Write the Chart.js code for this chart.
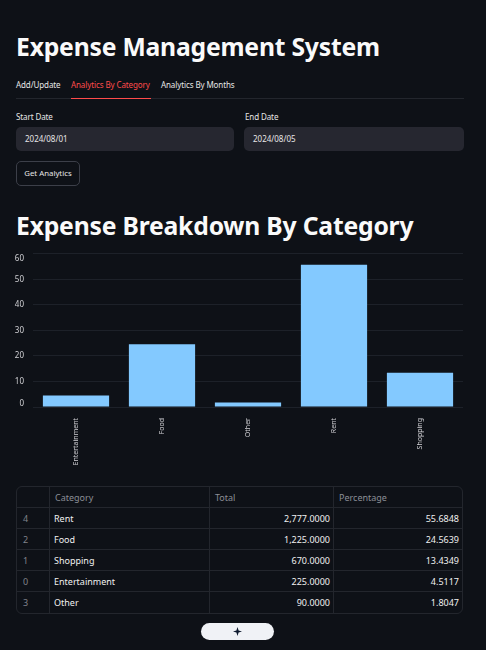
<!DOCTYPE html>
<html>
<head>
<meta charset="utf-8">
<title>Expense Management System</title>
<script src="https://cdn.jsdelivr.net/npm/chart.js@4"></script>
<style>
html, body { margin: 0; height: 100%; background: #0e1117; overflow: hidden; }
body { position: relative; width: 486px; height: 650px; font-family: "Noto Sans", sans-serif; color: #fafafa; }
.abs { position: absolute; white-space: nowrap; }
h1 { margin: 0; font-weight: 700; font-size: 24.7px; line-height: 34px; letter-spacing: -0.2px; }
.tab { top: 78px; font-size: 8px; line-height: 14px; letter-spacing: -0.1px; color: #e6e6e6; }
.tab.on { color: #ff4b4b; }
.lbl { top: 110px; font-size: 8px; line-height: 13px; letter-spacing: -0.1px; color: #e6e6e6; }
.input { top: 127px; height: 24px; background: #262730; border-radius: 5px; font-size: 8px; line-height: 24px; color: #e6e6e6; box-sizing: border-box; padding-left: 9px; }
.btn { left: 16px; top: 161px; width: 64px; height: 25px; box-sizing: border-box; border: 1px solid #3c3f49; border-radius: 5px; font-size: 7.8px; line-height: 23px; text-align: center; color: #e6e6e6; }
#chart { position: absolute; left: 0; top: 240px; }
#tbl { position: absolute; left: 16px; top: 486px; width: 447px; height: 126px; border: 1px solid #23262d; border-radius: 6px; border-collapse: separate; border-spacing: 0; table-layout: fixed; font-size: 9px; }
#tbl th, #tbl td { padding: 0 3px; height: 21px; box-sizing: border-box; border-right: 1px solid #23262d; border-bottom: 1px solid #23262d; font-weight: 400; white-space: nowrap; overflow: hidden; }
#tbl th { text-align: left; color: #8b8e96; padding-left: 5px; }
#tbl td { text-align: right; color: #f0f0f0; }
#tbl td.idx { text-align: left; color: #80838b; padding-left: 6px; }
#tbl td.cat { text-align: left; padding-left: 4px; }
#tbl tr > :last-child { border-right: 0; }
#tbl tr:last-child td { border-bottom: 0; }
.pill { left: 201px; top: 623px; width: 73px; height: 17px; border-radius: 9px; background: #f0f2f6; }
.pill svg { position: absolute; left: 32px; top: 4px; }
</style>
</head>
<body>
<h1 class="abs" style="left:16px;top:30px">Expense Management System</h1>
<div class="abs tab" style="left:16px">Add/Update</div>
<div class="abs tab on" style="left:71px">Analytics By Category</div>
<div class="abs tab" style="left:161px">Analytics By Months</div>
<div class="abs" style="left:16px;top:98px;width:448px;height:1px;background:#23262d"></div>
<div class="abs" style="left:71px;top:98px;width:80px;height:1px;background:#ff4b4b"></div>
<div class="abs lbl" style="left:16px">Start Date</div>
<div class="abs lbl" style="left:245px">End Date</div>
<div class="abs input" style="left:16px;width:218px">2024/08/01</div>
<div class="abs input" style="left:244px;width:220px">2024/08/05</div>
<div class="abs btn">Get Analytics</div>
<h1 class="abs" style="left:16px;top:209px">Expense Breakdown By Category</h1>
<canvas id="chart" width="486" height="233"></canvas>
<table id="tbl">
  <colgroup><col style="width:33px"><col style="width:160px"><col style="width:124px"><col></colgroup>
  <thead><tr id="tblHead"></tr></thead>
  <tbody id="tblBody"></tbody>
</table>
<div class="abs pill"><svg width="9" height="9" viewBox="0 0 10 10"><path d="M5 0 L6.2 3.8 L10 5 L6.2 6.2 L5 10 L3.8 6.2 L0 5 L3.8 3.8 Z" fill="#0e1a2f"/></svg></div>

<script>
// bar chart data
const categories = ['Entertainment', 'Food', 'Other', 'Rent', 'Shopping'];
const percentages = [4.5117, 24.5639, 1.8047, 55.6848, 13.4349];
const yTicks = [0, 10, 20, 30, 40, 50, 60];

// table data, sorted like the picture
const tableColumns = ['', 'Category', 'Total', 'Percentage'];
const rowIndex = [4, 2, 1, 0, 3];
const rowCategory = ['Rent', 'Food', 'Shopping', 'Entertainment', 'Other'];
const rowTotal = ['2,777.0000', '1,225.0000', '670.0000', '225.0000', '90.0000'];
const rowPercent = ['55.6848', '24.5639', '13.4349', '4.5117', '1.8047'];

document.getElementById('tblHead').innerHTML = tableColumns.map(c => `<th>${c}</th>`).join('');
document.getElementById('tblBody').innerHTML = rowIndex.map((idx, i) => `<tr>
  <td class="idx">${idx}</td><td class="cat">${rowCategory[i]}</td><td>${rowTotal[i]}</td><td>${rowPercent[i]}</td>
</tr>`).join('');

// the first and last y labels sit a bit inside the plot, plotly style
const nudgeEndLabels = {
    id: 'nudgeEndLabels',
    afterLayout(chart) {
        const items = chart.scales.y.getLabelItems();
        items[0].options.translation[1] -= 3;
        items[items.length - 1].options.translation[1] += 5;
    }
};

new Chart(document.getElementById('chart').getContext('2d'), {
    type: 'bar',
    data: {
        labels: categories,
        datasets: [{ data: percentages, backgroundColor: '#83c9ff', categoryPercentage: 1, barPercentage: 0.77 }]
    },
    plugins: [nudgeEndLabels],
    options: {
        responsive: false,
        animation: false,
        layout: { padding: { top: 4, right: 23, left: 0, bottom: 0 } },
        plugins: { legend: { display: false }, tooltip: { enabled: false } },
        scales: {
            x: {
                grid: { display: false },
                border: { display: false },
                ticks: { color: '#d0d0d4', font: { family: 'Noto Sans', size: 7 }, minRotation: 90, maxRotation: 90, padding: 3, autoSkip: false },
                afterFit: s => { s.height = 66; }
            },
            y: {
                min: 0,
                max: 60,
                afterBuildTicks: s => { s.ticks = yTicks.map(v => ({ value: v })); },
                grid: { color: '#1d2129', lineWidth: 1, drawTicks: false },
                border: { display: false },
                ticks: { color: '#d0d0d4', font: { family: 'Noto Sans', size: 8 }, padding: 9 },
                afterFit: s => { s.width = 33; }
            }
        }
    }
});
</script>
</body>
</html>
